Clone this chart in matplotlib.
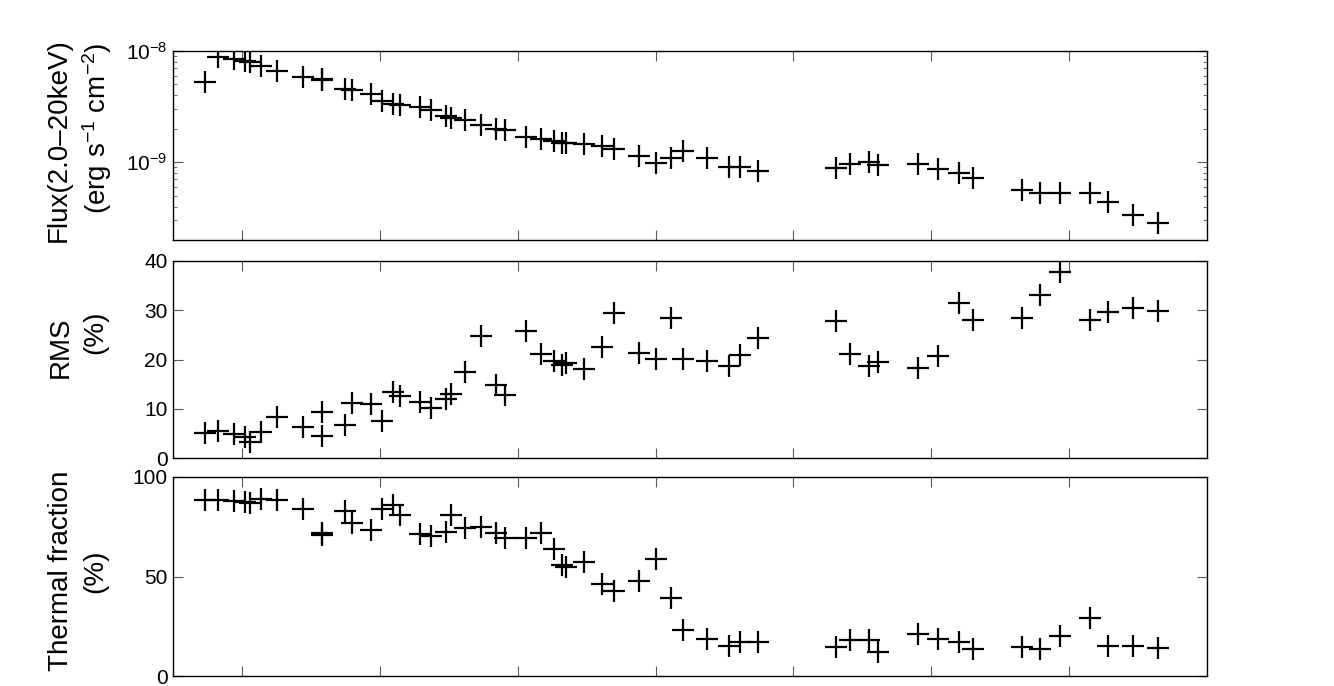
import matplotlib
matplotlib.use("Agg")
import matplotlib.pyplot as plt
import numpy as np

plt.rcParams['font.family'] = ['Liberation Sans', 'DejaVu Sans']
plt.rcParams['mathtext.fontset'] = 'custom'
plt.rcParams['mathtext.rm'] = 'Liberation Sans'
plt.rcParams['mathtext.it'] = 'Liberation Sans:italic'
plt.rcParams['mathtext.default'] = 'regular'

# ── dati ──────────────────────────────────────────────────────────
days = [7.29, 8.26, 9.43, 10.23, 10.58, 11.36, 12.57, 14.43, 15.78, 15.78,
        17.50, 17.98, 19.34, 20.19, 20.94, 21.49, 22.91, 23.69, 24.81, 25.20,
        26.21, 27.34, 28.46, 29.09, 30.64, 31.68, 32.60, 33.18, 33.49, 34.80,
        36.10, 37.01, 38.77, 40.07, 41.11, 42.00, 43.70, 45.30, 46.10, 47.45,
        53.06, 54.10, 55.50, 56.15, 59.06, 60.46, 62.03, 63.00, 66.56, 67.89,
        69.34, 71.52, 72.84, 74.66, 76.43]

flux = [5.3e-9, 8.8e-9, 8.4e-9, 8.2e-9, 8.0e-9, 7.3e-9, 6.65e-9, 5.88e-9, 5.57e-9, 5.5e-9,
        4.53e-9, 4.47e-9, 4.11e-9, 3.58e-9, 3.34e-9, 3.27e-9, 3.16e-9, 2.95e-9, 2.6e-9, 2.48e-9,
        2.4e-9, 2.16e-9, 1.98e-9, 1.95e-9, 1.7e-9, 1.61e-9, 1.56e-9, 1.5e-9, 1.48e-9, 1.45e-9,
        1.4e-9, 1.31e-9, 1.14e-9, 0.99e-9, 1.09e-9, 1.27e-9, 1.09e-9, 0.90e-9, 0.90e-9, 0.836e-9,
        0.895e-9, 0.966e-9, 1.01e-9, 0.946e-9, 0.966e-9, 0.871e-9, 0.796e-9, 0.728e-9, 0.564e-9, 0.526e-9,
        0.533e-9, 0.533e-9, 0.438e-9, 0.336e-9, 0.286e-9]

rms = [5.0, 5.5, 4.9, 4.3, 3.3, 5.3, 8.4, 6.2, 9.4, 4.5,
       6.6, 11.1, 10.9, 7.6, 13.5, 12.5, 11.3, 10.1, 12.0, 12.9,
       17.5, 24.8, 14.8, 12.8, 25.8, 21.1, 19.7, 18.9, 19.2, 18.1,
       22.6, 29.4, 21.4, 20.2, 28.5, 20.2, 19.7, 18.7, 20.9, 24.3,
       27.8, 21.1, 18.7, 19.4, 18.3, 20.8, 31.4, 28.0, 28.5, 33.1,
       37.7, 28.0, 29.7, 30.4, 29.8]

thermal = [88.4, 88.4, 88.0, 87.3, 86.8, 88.8, 88.4, 83.8, 71.7, 70.7,
           82.9, 76.7, 73.4, 83.8, 85.9, 80.9, 71.2, 70.5, 72.5, 80.9,
           74.5, 75.0, 71.7, 69.5, 69.2, 71.7, 63.7, 55.8, 54.9, 57.4,
           46.1, 42.9, 47.9, 58.6, 39.3, 23.1, 18.6, 15.2, 17.2, 16.9,
           14.7, 17.9, 18.1, 12.2, 21.0, 18.6, 17.2, 13.6, 14.7, 13.6,
           20.3, 29.3, 15.1, 15.1, 14.2]

W, H = 1334, 686
fig = plt.figure(figsize=(W / 100, H / 100), dpi=100)

def box(top, bottom, left=173, right=1207):
    return [left / W, 1 - bottom / H, (right - left) / W, (bottom - top) / H]

ax1 = fig.add_axes(box(51, 240))
ax2 = fig.add_axes(box(261, 458))
ax3 = fig.add_axes(box(477, 676))

for ax, y in [(ax1, flux), (ax2, rms), (ax3, thermal)]:
    ax.plot(days, y, '+', color='k', ms=16, mew=1.6)
    ax.set_xlim(5, 80)
    ax.set_xticks(np.arange(10, 80, 10))
    ax.tick_params(axis='x', labelbottom=False)
    ax.tick_params(which='both', direction='in', top=True, right=True,
                   color='0.35', labelsize=15, pad=4)
    ax.tick_params(which='major', length=7)
    ax.tick_params(which='minor', length=3)
    for s in ax.spines.values():
        s.set_linewidth(1.0)

ax1.set_yscale('log')
ax1.set_ylim(2e-10, 1e-8)
ax2.set_ylim(0, 40)
ax2.set_yticks([0, 10, 20, 30, 40])
ax3.set_ylim(0, 100)
ax3.set_yticks([0, 50, 100])

# ── etichette asse y (una riga alla volta) ────────────────────────
def lab(x, y, s):
    fig.text(x / W, 1 - y / H, s, rotation=90, ha='center', va='center', fontsize=20)

lab(59, 140, 'Flux(2.0\u201320keV)')
lab(97, 128, '(erg s$^{-1}$ cm$^{-2}$)')
lab(61, 347, 'RMS')
lab(95, 332, '(%)')
lab(61, 571, 'Thermal fraction')
lab(95, 571, '(%)')

fig.savefig('out.png', dpi=100)
